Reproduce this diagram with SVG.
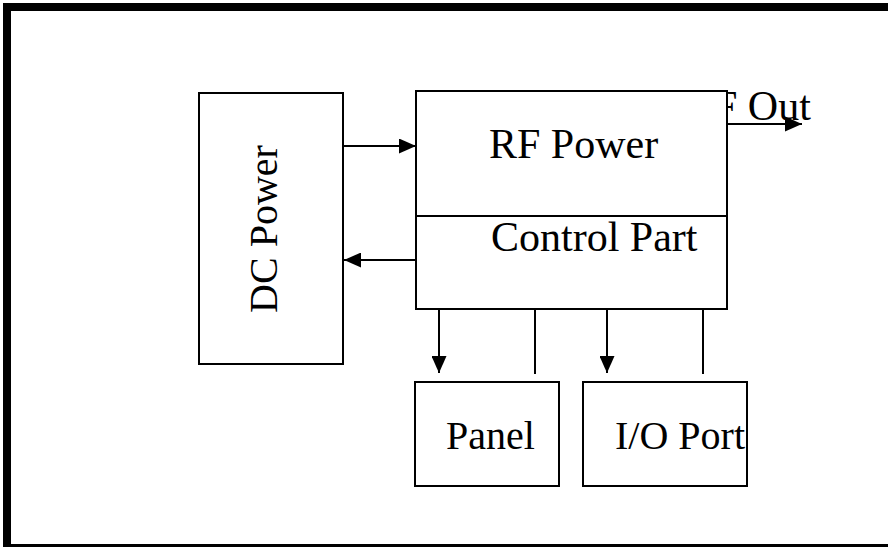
<svg xmlns="http://www.w3.org/2000/svg" width="888" height="547" viewBox="0 0 888 547">
<defs>
<style>
.box{fill:#fff;stroke:#000;stroke-width:2}
.ln{fill:none;stroke:#000;stroke-width:2}
text{font-family:'Liberation Serif','Times New Roman','DejaVu Serif',serif;font-size:42px;fill:#000}
</style>
<marker id="ah" viewBox="0 0 17 15" refX="17" refY="7.5" markerWidth="17" markerHeight="15" markerUnits="userSpaceOnUse" orient="auto">
<path d="M0,0 L17,7.5 L0,15 Z" fill="#000"/>
</marker>
</defs>
<rect x="0" y="0" width="888" height="547" fill="#fff"/>
<path d="M3,3 H888 V547 H3 Z M11,11 V544 H888 V11 Z" fill="#000" fill-rule="evenodd"/>
<text x="686" y="120">RF Out</text>
<g id="connectors">
<line class="ln" x1="343" y1="146" x2="416" y2="146" marker-end="url(#ah)"/>
<line class="ln" x1="416" y1="260" x2="344" y2="260" marker-end="url(#ah)"/>
<line class="ln" x1="727" y1="124" x2="802" y2="124" marker-end="url(#ah)"/>
<line class="ln" x1="439" y1="309" x2="439" y2="373" marker-end="url(#ah)"/>
<line class="ln" x1="535" y1="309" x2="535" y2="374"/>
<line class="ln" x1="607" y1="309" x2="607" y2="373" marker-end="url(#ah)"/>
<line class="ln" x1="703" y1="309" x2="703" y2="374"/>
</g>
<g id="dc-power">
<rect class="box" x="199" y="93" width="144" height="271"/>
<text transform="translate(277,229) rotate(-90)" text-anchor="middle" style="font-size:40px">DC Power</text>
</g>
<g id="rf-power">
<rect class="box" x="416" y="91" width="311" height="218"/>
<line class="ln" x1="416" y1="216" x2="727" y2="216"/>
<text x="489" y="158">RF Power</text>
<text x="491" y="251">Control Part</text>
</g>
<g id="panel">
<rect class="box" x="415" y="382" width="144" height="104"/>
<text x="446" y="449" style="font-size:40px">Panel</text>
</g>
<g id="io-port">
<rect class="box" x="583" y="382" width="164" height="104"/>
<text x="615" y="449" style="font-size:40px">I/O Port</text>
</g>
</svg>
